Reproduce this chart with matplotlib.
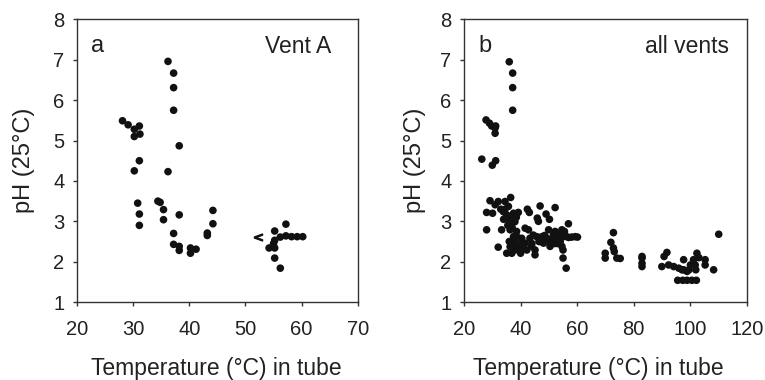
import matplotlib
matplotlib.use('Agg')
import matplotlib.pyplot as plt

plt.rcParams['font.family'] = ['Liberation Sans', 'DejaVu Sans']

# panel a: Vent A
a_temp = [28.1, 29.1, 30.2, 31.1, 30.2, 31.2, 31.1, 30.2, 36.2, 37.2, 37.2, 37.2,
          38.2, 36.2, 30.8, 31.1, 31.1, 34.4, 34.8, 35.4, 35.4, 38.2, 37.2, 37.2,
          38.2, 38.2, 40.2, 40.2, 41.2, 43.2, 43.2, 44.2, 44.2, 55.2, 54.2, 55.2,
          55.2, 55.2, 56.2, 56.2, 57.2, 57.2, 58.2, 59.2, 60.2, 55.0]
a_ph = [5.49, 5.39, 5.28, 5.36, 5.10, 5.16, 4.50, 4.25, 6.96, 6.67, 6.31, 5.75,
        4.87, 4.23, 3.45, 3.18, 2.90, 3.50, 3.47, 3.29, 3.04, 3.16, 2.70, 2.43,
        2.38, 2.28, 2.34, 2.21, 2.31, 2.71, 2.65, 3.27, 2.94, 2.76, 2.34, 2.53,
        2.34, 2.09, 1.84, 2.61, 2.93, 2.64, 2.62, 2.62, 2.62, 2.45]
# "<" value (below detection) in panel a
a_lt_temp = [52.3]
a_lt_ph = [2.62]

# panel b: all vents
b_temp = [26.3, 30.0, 31.2, 27.8, 29.0, 29.8, 31.0, 31.2, 31.0, 36.0, 37.2, 37.2, 37.2,
          29.2, 28.0, 28.0, 30.1, 31.0, 32.1, 32.1, 33.3, 33.9, 34.5, 36.5, 35.7,
          35.1, 36.3, 37.5, 39.2, 36.9, 38.0, 36.3, 37.5, 35.1, 36.9, 38.0, 36.3,
          38.0, 39.8, 40.0, 40.4, 41.0, 41.6, 42.4, 43.1, 42.8, 43.3, 43.9, 45.1,
          45.1, 45.7, 44.5, 45.9, 46.3, 46.9, 47.5, 48.1, 49.0, 50.2, 49.9, 49.3,
          50.4, 51.6, 52.2, 52.8, 53.4, 54.6, 55.1, 54.6, 55.0, 55.0, 56.1, 56.9,
          56.3, 58.1, 59.3, 60.1, 52.2, 54.0, 42.2, 38.6, 39.8, 38.6, 41.6, 51.6,
          51.0, 34.0, 35.5, 37.0, 33.0, 47.0, 48.5, 53.0,
          34.5, 36.0, 37.0, 38.5, 36.0, 37.5, 39.0, 40.5, 44.0, 46.5, 48.5, 50.5,
          52.0, 53.5, 55.5, 57.0,
          72.8, 71.9, 72.8, 73.1, 69.9, 69.9, 74.0, 75.2, 82.9, 82.9, 82.9, 82.9,
          91.7, 90.7, 89.9, 92.3, 94.1, 95.9, 97.6, 97.0, 98.8, 100.0, 101.1, 102.3,
          101.7, 101.9, 105.2, 105.2, 108.2, 110.0, 95.5, 97.3, 98.8, 100.5, 102.1,
          97.6, 99.5, 103.0]
b_ph = [4.54, 4.39, 4.50, 5.51, 5.43, 5.36, 5.31, 5.36, 5.18, 6.95, 6.67, 6.31, 5.75,
        3.51, 3.22, 2.79, 3.20, 3.41, 3.49, 2.36, 2.79, 3.24, 3.49, 3.59, 3.37,
        3.16, 3.12, 3.20, 3.22, 2.99, 2.99, 2.79, 2.62, 2.21, 2.21, 2.29, 2.37,
        2.46, 2.42, 2.21, 2.58, 2.33, 2.83, 3.30, 3.22, 2.79, 2.58, 2.38, 2.17,
        2.29, 2.62, 2.66, 3.08, 3.00, 3.38, 2.62, 2.46, 3.18, 3.05, 2.79, 2.58,
        2.38, 2.66, 3.34, 2.54, 2.66, 2.79, 2.62, 2.38, 2.29, 2.09, 1.84, 2.94,
        2.62, 2.61, 2.62, 2.61, 2.75, 2.50, 2.29, 2.75, 2.29, 2.37, 2.46, 2.46,
        2.54, 3.05, 2.90, 2.50, 3.30, 2.50, 2.55, 2.45,
        3.30, 3.00, 2.85, 3.10, 2.50, 2.35, 2.60, 2.45, 2.45, 2.50, 2.65, 2.50,
        2.45, 2.55, 2.75, 2.60,
        2.72, 2.48, 2.34, 2.25, 2.21, 2.09, 2.09, 2.08, 2.09, 1.96, 1.88, 2.13,
        2.23, 2.13, 1.88, 1.92, 1.88, 1.84, 2.05, 1.80, 1.76, 1.92, 2.05, 2.21,
        1.92, 1.80, 2.05, 1.92, 1.80, 2.68, 1.54, 1.54, 1.54, 1.54, 1.54,
        1.80, 1.80, 2.10]

a_xticks = [20, 30, 40, 50, 60, 70]
b_xticks = [20, 40, 60, 80, 100, 120]
yticks = [1, 2, 3, 4, 5, 6, 7, 8]

ink = '#111111'
txt = '#222222'
fig = plt.figure(figsize=(7.65, 3.8), dpi=100)
ax1 = fig.add_axes([0.1007, 0.205, 0.367, 0.744])
ax2 = fig.add_axes([0.6065, 0.205, 0.370, 0.744])

panels = [(ax1, a_temp, a_ph, a_xticks, 'a', 'Vent A', 0.906, -0.150, 0.497),
          (ax2, b_temp, b_ph, b_xticks, 'b', 'all vents', 0.936, -0.135, 0.473)]
for ax, t, ph, xt, letter, name, name_x, ylab_x, xlab_x in panels:
    ax.scatter(t, ph, s=30, color=ink, edgecolors='none', zorder=3, clip_on=False)
    ax.set_xlim(xt[0], xt[-1])
    ax.set_ylim(1, 8)
    ax.set_xticks(xt)
    ax.set_yticks(yticks)
    ax.tick_params(direction='out', length=3, width=1, colors='#333333',
                   labelsize=14.5, labelcolor=txt)
    ax.tick_params(axis='x', pad=10)
    ax.tick_params(axis='y', pad=6)
    for spine in ax.spines.values():
        spine.set_color('#333333')
        spine.set_linewidth(1.0)
    ax.set_xlabel('Temperature (°C) in tube', fontsize=16.5, color=txt)
    ax.set_ylabel('pH (25°C)', fontsize=17, color=txt)
    ax.xaxis.set_label_coords(xlab_x, -0.195)
    ax.yaxis.set_label_coords(ylab_x, 0.5)
    ax.text(0.05, 0.905, letter, transform=ax.transAxes, fontsize=17,
            color=txt, va='center', ha='left')
    ax.text(name_x, 0.905, name, transform=ax.transAxes, fontsize=16.5,
            color=txt, va='center', ha='right')

ax1.scatter(a_lt_temp, a_lt_ph, marker='$<$', s=34, color=ink, zorder=3)

fig.savefig('out.png', dpi=100, facecolor='white')
